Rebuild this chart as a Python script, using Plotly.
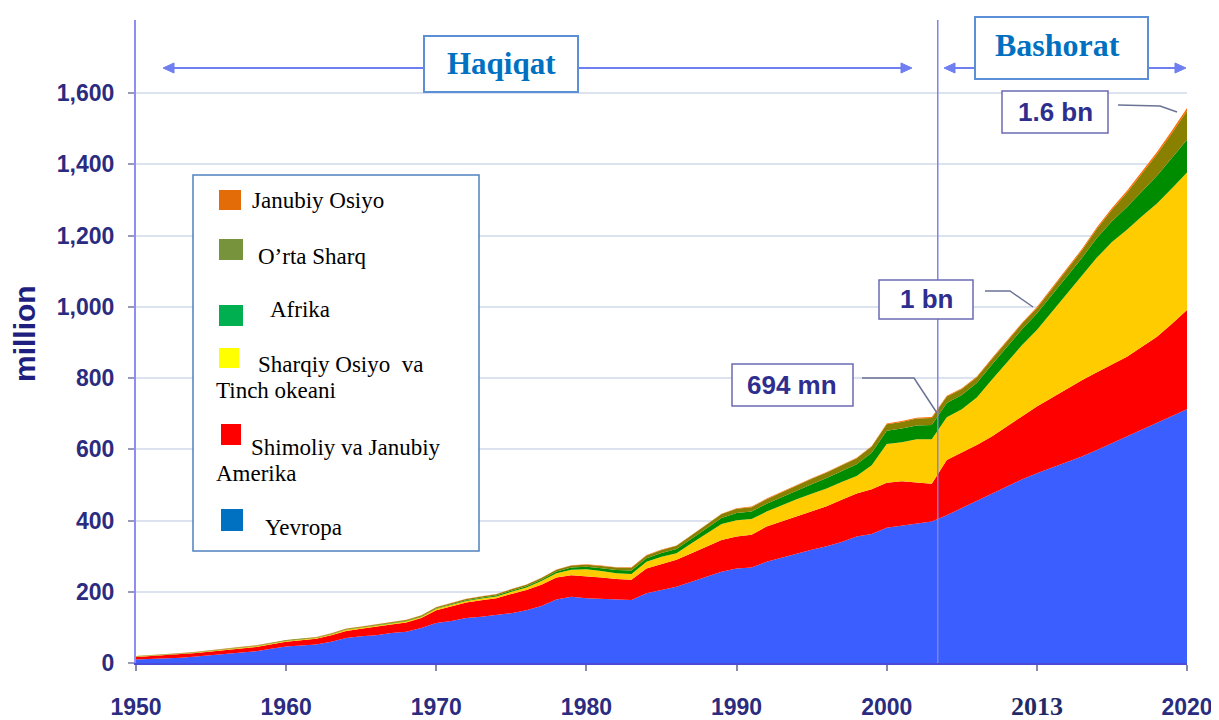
import plotly.graph_objects as go

# ---------------- data (million) ----------------
years = list(range(1950, 2021))

europe = [10, 11, 13, 15, 18, 22, 26, 29, 33, 40,
          46, 49, 52, 60, 70, 75, 78, 84, 88, 98,
          112, 118, 126, 130, 134, 140, 148, 160, 178, 186,
          182, 180, 178, 177, 196, 205, 214, 228, 242, 256,
          265, 268, 284, 296, 308, 318, 328, 340, 355, 362,
          380, 385, 390, 397, 415, 435, 455, 477, 496, 515,
          533, 548, 564, 580, 598, 617, 636, 655, 673, 692,
          712]

americas = [7, 8, 9, 10, 10, 11, 11, 12, 12, 12,
            14, 15, 16, 18, 20, 21, 23, 24, 26, 28,
            36, 40, 44, 46, 48, 54, 57, 60, 62, 60,
            62, 60, 58, 57, 69, 73, 76, 80, 85, 89,
            90, 92, 99, 101, 103, 107, 112, 118, 121, 126,
            126, 125, 116, 106, 155, 155, 157, 159, 169, 177,
            187, 197, 206, 214, 218, 221, 224, 233, 243, 260,
            279]

east_asia = [1, 1, 1, 1, 1.5, 1.5, 2, 2, 2, 2,
             2, 2, 2, 2, 3, 3, 3, 3, 3, 3,
             4, 4, 4, 5, 5, 6, 7, 10, 12, 16,
             19, 18, 16, 16, 19, 20, 18, 28, 37, 45,
             46, 44, 42, 46, 49, 50, 50, 50, 49, 67,
             109, 110, 122, 125, 120, 122, 133, 159, 180, 200,
             215, 240, 265, 291, 322, 344, 356, 366, 374, 381,
             386]

africa = [0.5, 0.5, 0.5, 0.5, 0.5, 0.6, 0.6, 0.7, 0.7, 0.8,
          0.8, 0.9, 0.9, 1, 1, 1, 1.2, 1.2, 1.3, 1.4,
          1.5, 1.8, 2, 2.2, 2.5, 3, 3.5, 4, 5, 6,
          7, 8, 9, 10, 10, 11, 12, 13, 15, 17,
          20, 21, 22, 23, 25, 27, 29, 31, 33, 35,
          37, 38, 39, 40, 40, 40, 41, 42, 43, 44,
          46, 48, 50, 52, 55, 58, 64, 71, 78, 85,
          92]

middle_east = [1, 1, 1, 1, 1, 1.2, 1.2, 1.3, 1.4, 1.5,
               1.5, 1.6, 1.7, 1.8, 2, 2, 2.2, 2.4, 2.6, 2.8,
               3, 3.2, 3.4, 3.6, 3.8, 4, 4.3, 4.6, 5, 5.5,
               6, 6.5, 7, 7.5, 8, 8.5, 9, 9.5, 10, 11,
               12, 12.5, 13, 13.5, 14, 15, 16, 16.5, 17, 17.5,
               18, 18.5, 19, 20, 18, 17, 16, 16, 16, 16,
               15, 16, 18, 21, 26, 32, 40, 50, 60, 70,
               81]

south_asia = [0.5, 0.5, 0.5, 0.5, 0.5, 0.5, 0.5, 0.5, 0.5, 0.5,
              0.5, 0.5, 0.5, 0.5, 0.5, 0.5, 0.5, 0.5, 0.5, 0.5,
              0.7, 0.7, 0.7, 0.7, 0.7, 0.7, 0.7, 0.7, 0.7, 0.7,
              1, 1, 1, 1, 1, 1, 1, 1, 1, 1,
              1.5, 1.5, 1.5, 1.5, 1.5, 1.5, 1.5, 1.5, 1.5, 1.5,
              2.5, 2.5, 2.5, 2.5, 2.5, 2.5, 2.5, 2.5, 2.5, 2.5,
              3.5, 3.7, 4, 4.2, 4.5, 5, 5.5, 6, 6.5, 7,
              8]

series_names = ["Yevropa", "Shimoliy va Janubiy Amerika", "Sharqiy Osiyo va Tinch okeani",
                "Afrika", "O’rta Sharq", "Janubiy Osiyo"]
series_values = [europe, americas, east_asia, africa, middle_east, south_asia]
area_colors = ["#3a5eff", "#ff0000", "#ffcc00", "#008c00", "#8a8000", "#ff6a00"]

x_tickvals = [1950, 1960, 1970, 1980, 1990, 2000, 2010, 2020]
x_ticktext = ["1950", "1960", "1970", "1980", "1990", "2000", "", "2020"]
y_tickvals = [0, 200, 400, 600, 800, 1000, 1200, 1400, 1600]
split_year = 2003.4

# legend (top to bottom)
legend_labels = [["Janubiy Osiyo"], ["O’rta Sharq"], ["Afrika"],
                 ["Sharqiy Osiyo\u00a0 va", "Tinch okeani"],
                 ["Shimoliy va Janubiy", "Amerika"], ["Yevropa"]]
legend_colors = ["#e36c09", "#77933c", "#00b050", "#ffff00", "#ff0000", "#0070c0"]

# ---------------- layout helpers ----------------
# page pixel coordinates; the page body adds an 8px offset to the figure
OFF = 8
PAGE_W, PAGE_H = 1219, 720
W, H = PAGE_W - OFF, PAGE_H - OFF
L, R, T, B = 136, 1187, 20, 663


def px(x):
    return (x - L) / (R - L)


def py(y):
    return (B - y) / (B - T)


def path(points, close=False):
    s = "M " + " L ".join(f"{px(x):.5f},{py(y):.5f}" for x, y in points)
    return s + (" Z" if close else "")


shapes = []
annotations = []


def rect(x0, y0, x1, y1, line_color, lw, fill="white"):
    shapes.append(dict(type="rect", xref="paper", yref="paper",
                       x0=px(x0), x1=px(x1), y0=py(y1), y1=py(y0),
                       line=dict(color=line_color, width=lw), fillcolor=fill, layer="above"))


def line_path(points, color, width):
    shapes.append(dict(type="path", xref="paper", yref="paper", path=path(points),
                       line=dict(color=color, width=width), layer="above"))


def tri(points, color):
    shapes.append(dict(type="path", xref="paper", yref="paper", path=path(points, True),
                       line=dict(color=color, width=1), fillcolor=color, layer="above"))


def text(x, y, s, size, color, family, bold=False, xanchor="center", angle=0):
    annotations.append(dict(xref="paper", yref="paper", x=px(x), y=py(y), text=s,
                            showarrow=False, xanchor=xanchor, yanchor="middle",
                            textangle=angle,
                            font=dict(size=size, color=color, family=family,
                                      weight="bold" if bold else "normal")))


fig = go.Figure()
for name, vals, col in zip(series_names, series_values, area_colors):
    fig.add_trace(go.Scatter(x=years, y=vals, name=name, stackgroup="one", mode="lines",
                             line=dict(width=0, color=col), fillcolor=col, showlegend=False))

# vertical split line
shapes.append(dict(type="line", xref="x", yref="paper", x0=split_year, x1=split_year,
                   y0=0, y1=1, line=dict(color="#7f84e6", width=1.5), layer="above"))

# period arrows
arrow_col = "#6f7ff0"
line_path([(168, 68), (906, 68)], arrow_col, 2)
tri([(163, 68), (174, 63), (174, 73)], arrow_col)
tri([(912, 68), (901, 63), (901, 73)], arrow_col)
line_path([(950, 68), (1180, 68)], arrow_col, 2)
tri([(944, 68), (955, 63), (955, 73)], arrow_col)
tri([(1186, 68), (1175, 63), (1175, 73)], arrow_col)

# period boxes
serif = "Liberation Serif, Times New Roman, serif"
rect(424, 36, 578, 92, "#5b8fd6", 2)
text(501, 63, "Haqiqat", 31, "#0070c0", serif, bold=True)
rect(975, 17, 1148, 79, "#5b8fd6", 2)
text(1057, 45, "Bashorat", 32, "#0070c0", serif, bold=True)

# callouts
call_col = "#6b7395"
box_col = "#6b6bb3"
lab_col = "#2e2e8f"
sans = "Liberation Sans, Arial, sans-serif"
line_path([(862, 378), (914, 378), (937, 413)], call_col, 1.5)
rect(732, 364, 853, 406, box_col, 1.5)
text(792, 385, "694 mn", 26, lab_col, sans, bold=True)

line_path([(985, 291), (1010, 291), (1033, 307)], call_col, 1.5)
rect(879, 280, 973, 319, box_col, 1.5)
text(926, 299, "1 bn", 26, lab_col, sans, bold=True)

line_path([(1118, 105), (1160, 106), (1177, 112)], call_col, 1.5)
rect(1002, 91, 1108, 133, box_col, 1.5)
text(1055, 112, "1.6 bn", 26, lab_col, sans, bold=True)

# manual legend
rect(193, 175, 479, 551, "#4f81bd", 1.5)
sq = [(219, 190, 241, 210), (219, 239, 243, 260), (219, 305, 243, 326),
      (219, 348, 239, 368), (221, 424, 241, 445), (221, 509, 243, 531)]
first_pos = [(250, 200), (256, 256), (268, 309), (256, 364), (249, 447), (263, 527)]
second_pos = [None, None, None, (214, 391), (214, 474), None]
for i, lab in enumerate(legend_labels):
    x0, y0, x1, y1 = sq[i]
    rect(x0, y0, x1, y1, legend_colors[i], 0, fill=legend_colors[i])
    text(first_pos[i][0], first_pos[i][1], lab[0], 23, "#000000", serif, xanchor="left")
    if len(lab) > 1:
        text(second_pos[i][0], second_pos[i][1], lab[1], 23, "#000000", serif, xanchor="left")

# axis title / special tick label
text(24, 334, "million", 30, "#1f1f80", sans, bold=True, angle=-90)
annotations.append(dict(xref="x", yref="paper", x=2010, y=py(706), text="2013", showarrow=False,
                        xanchor="center", yanchor="middle",
                        font=dict(size=26, color="#1f2a66", family=serif, weight="bold")))

tick_font = dict(size=23, color="#2b2b80", family=sans, weight="bold")
fig.update_layout(
    width=W, height=H,
    margin=dict(l=L - OFF, r=W - (R - OFF), t=T - OFF, b=H - (B - OFF), pad=0, autoexpand=False),
    paper_bgcolor="white", plot_bgcolor="white",
    showlegend=False,
    xaxis=dict(range=[1950, 2020], tickvals=x_tickvals, ticktext=x_ticktext,
               ticks="outside", ticklen=6, tickwidth=2, tickcolor="#8a8aa8",
               showgrid=False, showline=True, linecolor="#4b4bd8", linewidth=2,
               zeroline=False, tickfont=tick_font, ticklabelstandoff=16, automargin=False),
    yaxis=dict(range=[0, 1805], tickvals=y_tickvals, tickformat=",d",
               ticks="outside", ticklen=6, tickwidth=2, tickcolor="#9a9ab8",
               showgrid=True, gridcolor="#dde3ee", gridwidth=2,
               showline=True, linecolor="#8e8ef2", linewidth=2,
               zeroline=False, tickfont=tick_font, ticklabelstandoff=9, automargin=False),
    shapes=shapes,
    annotations=annotations,
)

fig.write_html("out.html")
